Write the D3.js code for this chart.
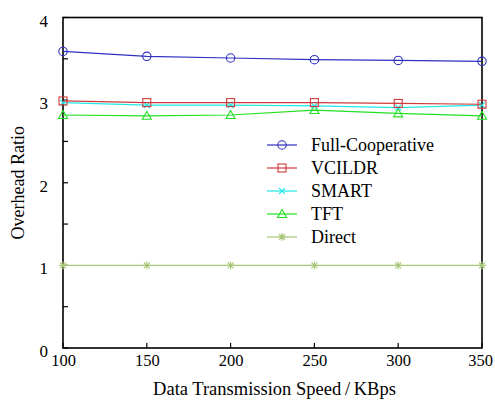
<!DOCTYPE html>
<html>
<head>
<meta charset="utf-8">
<script src="https://cdn.jsdelivr.net/npm/d3@7"></script>
<style>
  html, body { margin: 0; padding: 0; background: #fff; }
</style>
</head>
<body>
<svg id="chart" width="495" height="406"></svg>
<script>
// Transmission speeds (KBps)
const speeds = [100, 150, 200, 250, 300, 350];

// Overhead ratio per scheme
const fullCooperative = [3.59, 3.53, 3.51, 3.49, 3.48, 3.47];
const vcildr          = [2.99, 2.97, 2.97, 2.97, 2.96, 2.95];
const smart           = [2.97, 2.94, 2.94, 2.93, 2.91, 2.94];
const tft             = [2.82, 2.81, 2.82, 2.88, 2.84, 2.81];
const direct          = [1.00, 1.00, 1.00, 1.00, 1.00, 1.00];

const seriesNames = ["Full-Cooperative", "VCILDR", "SMART", "TFT", "Direct"];
const seriesValues = [fullCooperative, vcildr, smart, tft, direct];
const seriesColors = ["#3030c0", "#d03a3a", "#22e8e8", "#22e022", "#a8c878"];
const seriesMarkers = ["circle", "square", "cross", "triangle", "star"];

const xTicks = [100, 150, 200, 250, 300, 350];
const yTicks = [0, 1, 2, 3, 4];
const yMinorTicks = [0.5, 1.5, 2.5, 3.5];

const FONT = "'Liberation Serif', 'Times New Roman', Times, serif";

const margin = { left: 63, right: 13, top: 17.5, bottom: 58 };
const W = 495, H = 406;
const svg = d3.select("#chart");

const x = d3.scaleLinear().domain([100, 350]).range([margin.left, W - margin.right]);
const y = d3.scaleLinear().domain([0, 4]).range([H - margin.bottom, margin.top]);

// Frame
svg.append("rect")
  .attr("x", x(100)).attr("y", y(4))
  .attr("width", x(350) - x(100)).attr("height", y(0) - y(4))
  .attr("fill", "none").attr("stroke", "#000").attr("stroke-width", 1.6);

// Y axis with inward ticks
const yAxis = svg.append("g")
  .attr("transform", `translate(${x(100)},0)`)
  .call(d3.axisLeft(y).tickValues(yTicks).tickSize(0).tickPadding(15).tickFormat(d3.format("d")));
yAxis.attr("font-family", FONT);
yAxis.select(".domain").remove();
yAxis.selectAll("text").attr("font-size", 17).attr("dy", "0.5em").style("font-family", FONT);
svg.append("g").selectAll("line")
  .data(yTicks.concat(yMinorTicks))
  .join("line")
  .attr("x1", x(100)).attr("x2", x(100) + 5)
  .attr("y1", d => y(d)).attr("y2", d => y(d))
  .attr("stroke", "#000").attr("stroke-width", 1.2);

// X axis with inward ticks
const xAxis = svg.append("g")
  .attr("transform", `translate(0,${y(0)})`)
  .call(d3.axisBottom(x).tickValues(xTicks).tickSize(0).tickPadding(6).tickFormat(d3.format("d")));
xAxis.attr("font-family", FONT);
xAxis.select(".domain").remove();
xAxis.selectAll("text").attr("font-size", 16.5).style("font-family", FONT)
  .attr("dx", d => d === 350 ? -2 : 0);
svg.append("g").selectAll("line")
  .data(xTicks)
  .join("line")
  .attr("x1", d => x(d)).attr("x2", d => x(d))
  .attr("y1", y(0)).attr("y2", y(0) - 5)
  .attr("stroke", "#000").attr("stroke-width", 1.2);

// Axis titles
svg.append("text")
  .attr("x", (x(100) + x(350)) / 2 + 2).attr("y", 395)
  .attr("text-anchor", "middle").attr("font-size", 18.5)
  .style("font-family", FONT)
  .text("Data Transmission Speed\u2009/\u2009KBps");
svg.append("text")
  .attr("transform", `translate(24,${(y(0) + y(4)) / 2}) rotate(-90)`)
  .attr("text-anchor", "middle").attr("font-size", 18)
  .style("font-family", FONT)
  .text("Overhead Ratio");

// Marker drawing
function drawMarker(g, type, color) {
  if (type === "circle") {
    g.append("circle").attr("r", 4.2).attr("fill", "none").attr("stroke", color).attr("stroke-width", 1.1);
  } else if (type === "square") {
    g.append("rect").attr("x", -4).attr("y", -4).attr("width", 8).attr("height", 8)
      .attr("fill", "none").attr("stroke", color).attr("stroke-width", 1.1);
  } else if (type === "triangle") {
    g.append("path").attr("d", "M0,-4.5L4.5,3.5L-4.5,3.5Z")
      .attr("fill", "none").attr("stroke", color).attr("stroke-width", 1.1);
  } else if (type === "cross") {
    g.append("path").attr("d", "M-3,-3L3,3M-3,3L3,-3")
      .attr("fill", "none").attr("stroke", color).attr("stroke-width", 1.1);
  } else if (type === "star") {
    g.append("path").attr("d", "M-3,-3L3,3M-3,3L3,-3M0,-4L0,4M-4,0L4,0")
      .attr("fill", "none").attr("stroke", color).attr("stroke-width", 1.1);
  }
}

const line = d3.line().x((d, i) => x(speeds[i])).y(d => y(d));

// Draw series (Direct first so the others sit on top)
const order = [4, 3, 2, 1, 0];
order.forEach(k => {
  const vals = seriesValues[k];
  svg.append("path")
    .datum(vals)
    .attr("d", line)
    .attr("fill", "none")
    .attr("stroke", seriesColors[k])
    .attr("stroke-width", 1.2);
  vals.forEach((v, i) => {
    const g = svg.append("g").attr("transform", `translate(${x(speeds[i])},${y(v)})`);
    drawMarker(g, seriesMarkers[k], seriesColors[k]);
  });
});

// Legend
const legend = svg.append("g").attr("transform", "translate(267,145)");
seriesNames.forEach((name, k) => {
  const row = legend.append("g").attr("transform", `translate(0,${k * 23})`);
  row.append("line").attr("x1", 0).attr("x2", 30).attr("y1", 0).attr("y2", 0)
    .attr("stroke", seriesColors[k]).attr("stroke-width", 1.2);
  const m = row.append("g").attr("transform", "translate(15,0)");
  drawMarker(m, seriesMarkers[k], seriesColors[k]);
  row.append("text").attr("x", 44).attr("y", 0).attr("dy", "0.35em")
    .attr("font-size", 18).style("font-family", FONT).text(name);
});
</script>
</body>
</html>
